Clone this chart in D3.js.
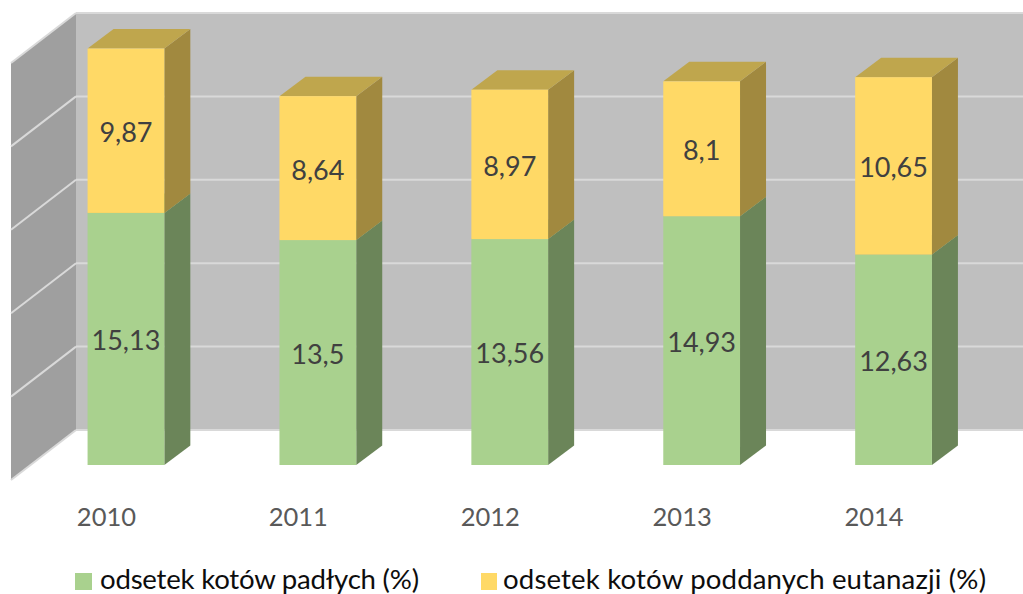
<!DOCTYPE html>
<html><head><meta charset="utf-8">
<script src="https://cdn.jsdelivr.net/npm/d3@7/dist/d3.min.js"></script>
<style>html,body{margin:0;padding:0;background:#fff;overflow:hidden}svg{display:block}text{font-family:Lato,"Open Sans",sans-serif}</style>
</head><body><svg id="c" width="1023" height="594"></svg>
<script>
const years=["2010","2011","2012","2013","2014"];
const padle=[15.13,13.5,13.56,14.93,12.63];
const eutanazja=[9.87,8.64,8.97,8.1,10.65];
const padleLabel="odsetek kotów padłych (%)";
const eutanazjaLabel="odsetek kotów poddanych eutanazji (%)";
const ticks=[0,5,10,15,20,25];
const W=1023,H=594;
const svg=d3.select("#c");
const x=d3.scaleBand().domain(years).range([30,989.5]).paddingInner(0.6).paddingOuter(0.3);
const yFront=d3.scaleLinear().domain([0,25]).range([465,48.5]);
const yBack=d3.scaleLinear().domain([0,25]).range([430,13]);
const yWall=d3.scaleLinear().domain([0,25]).range([480,63]);
const wallL=11,wallR=76,barDx=26,barDy=-19.5;
const poly=p=>p.map(q=>q.join(",")).join(" ");
// walls
svg.append("rect").attr("x",wallR).attr("y",yBack(25)).attr("width",W-wallR).attr("height",yBack(0)-yBack(25)).attr("fill","#bfbfbf");
svg.append("polygon").attr("points",poly([[wallL,yWall(25)],[wallR,yBack(25)],[wallR,yBack(0)],[wallL,yWall(0)]])).attr("fill","#9f9f9f");
ticks.forEach(t=>{
  svg.append("line").attr("x1",wallL).attr("y1",yWall(t)).attr("x2",wallR).attr("y2",yBack(t)).attr("stroke","#d9d9d9").attr("stroke-width",2);
  svg.append("line").attr("x1",wallR).attr("y1",yBack(t)).attr("x2",W).attr("y2",yBack(t)).attr("stroke","#d9d9d9").attr("stroke-width",2);
});
const stack=[
 {vals:padle,base:padle.map(()=>0),front:"#a9d18e",side:"#6b8559",top:"#87a771"},
 {vals:eutanazja,base:padle,front:"#ffd966",side:"#a1893f",top:"#bfa64d"}];
stack.forEach(s=>{
  years.forEach((yr,i)=>{
    const x0=x(yr),x1=x0+x.bandwidth();
    const y0=yFront(s.base[i]),y1=yFront(s.base[i]+s.vals[i]);
    svg.append("polygon").attr("points",poly([[x1,y0],[x1+barDx,y0+barDy],[x1+barDx,y1+barDy],[x1,y1]])).attr("fill",s.side);
    svg.append("polygon").attr("points",poly([[x0,y1],[x0+barDx,y1+barDy],[x1+barDx,y1+barDy],[x1,y1]])).attr("fill",s.top);
    svg.append("rect").attr("x",x0).attr("y",y1).attr("width",x1-x0).attr("height",y0-y1).attr("fill",s.front);
  });
});
const fmt=v=>String(v).replace(".",",");
stack.forEach(s=>{
  years.forEach((yr,i)=>{
    svg.append("text").attr("x",x(yr)+x.bandwidth()/2).attr("y",(yFront(s.base[i])+yFront(s.base[i]+s.vals[i]))/2+2)
      .attr("dy","0.35em").attr("text-anchor","middle").attr("font-size",27).attr("fill","#404040").text(fmt(s.vals[i]));
  });
});
years.forEach(yr=>{
  svg.append("text").attr("x",x(yr)+x.bandwidth()/2-19.5).attr("y",526).attr("text-anchor","middle").attr("font-size",25.5).attr("fill","#595959").text(yr);
});
[[75,17,100,319,"#a9d18e",padleLabel],[481,16,503,483,"#ffd966",eutanazjaLabel]].forEach(l=>{
  svg.append("rect").attr("x",l[0]).attr("y",573).attr("width",l[1]).attr("height",17).attr("fill",l[4]);
  svg.append("text").attr("x",l[2]).attr("y",589).attr("font-size",27.6).attr("textLength",l[3]).attr("lengthAdjust","spacing").attr("fill","#0d0d0d").text(l[5]);
});
</script></body></html>
